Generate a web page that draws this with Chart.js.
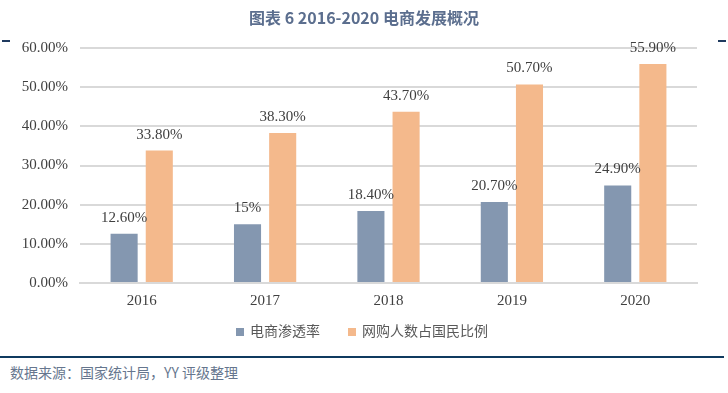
<!DOCTYPE html>
<html>
<head>
<meta charset="utf-8">
<script src="https://cdn.jsdelivr.net/npm/chart.js@4"></script>
<style>
  html, body { margin: 0; padding: 0; background: #fff; }
  #wrap { position: relative; width: 728px; height: 393px; overflow: hidden; }
  #title { position: absolute; top: 5px; left: 0; width: 728px; text-align: center;
    font: bold 16px "Noto Sans CJK SC", "Noto Sans", sans-serif; color: #5b6e8e; }
  .dash { position: absolute; top: 40px; width: 8px; height: 2px; background: #1f3a5f; }
  #chartBox { position: absolute; left: 0; top: 0; width: 728px; height: 330px; }
  #legend { position: absolute; top: 320px; left: 236px; height: 20px; white-space: nowrap;
    font: 14px "Noto Sans CJK SC", serif; color: #595959; line-height: 20px; }
  #legend span.item { display: inline-block; margin-right: 28px; }
  #legend i { display: inline-block; width: 8px; height: 8px; margin-right: 6px; vertical-align: 0px; }
  #rule { position: absolute; left: 0; top: 356px; width: 724px; height: 2px; background: #0f3a5f; }
  #source { position: absolute; left: 10px; top: 362px;
    font: 14px "Noto Sans CJK SC", "Noto Sans", sans-serif; color: #66768e; }
</style>
</head>
<body>
<div id="wrap">
  <div id="chartBox"><canvas id="chart"></canvas></div>
  <div id="title">图表 6 2016-2020 电商发展概况</div>
  <div class="dash" style="left:2px"></div>
  <div class="dash" style="left:718px"></div>
  <div id="legend"></div>
  <div id="rule"></div>
  <div id="source">数据来源：国家统计局，YY 评级整理</div>
</div>
<script>
const years = ['2016', '2017', '2018', '2019', '2020'];
const penetration = [12.6, 15, 18.4, 20.7, 24.9];
const penetrationLabels = ['12.60%', '15%', '18.40%', '20.70%', '24.90%'];
const shoppers = [33.8, 38.3, 43.7, 50.7, 55.9];
const shoppersLabels = ['33.80%', '38.30%', '43.70%', '50.70%', '55.90%'];

const serif = '"Liberation Serif", "Times New Roman", serif';

// draw value labels above bars
const barLabels = {
  id: 'barLabels',
  afterDatasetsDraw(chart) {
    const ctx = chart.ctx;
    ctx.save();
    ctx.font = '15px ' + serif;
    ctx.fillStyle = '#404040';
    ctx.textAlign = 'center';
    ctx.textBaseline = 'alphabetic';
    chart.data.datasets.forEach((ds, i) => {
      chart.getDatasetMeta(i).data.forEach((bar, j) => {
        ctx.fillText(ds.valueLabels[j], bar.x, bar.y - 12);
      });
    });
    ctx.restore();
  }
};

const chart = new Chart(document.getElementById('chart'), {
  type: 'bar',
  data: {
    labels: years,
    datasets: [
      { label: '电商渗透率', data: penetration, valueLabels: penetrationLabels,
        backgroundColor: '#8497b0' },
      { label: '网购人数占国民比例', data: shoppers, valueLabels: shoppersLabels,
        backgroundColor: '#f4b98c' }
    ]
  },
  options: {
    responsive: true,
    maintainAspectRatio: false,
    animation: false,
    layout: { padding: { left: 0, right: 31, top: 48, bottom: 11 } },
    datasets: { bar: { categoryPercentage: 0.57, barPercentage: 0.77 } },
    scales: {
      x: {
        grid: { display: false, drawTicks: false },
        border: { color: '#d9d9d9', width: 2 },
        ticks: { color: '#404040', padding: 9, font: { family: serif, size: 15 } }
      },
      y: {
        min: 0, max: 60,
        ticks: { stepSize: 10, color: '#404040', padding: 12,
          font: { family: serif, size: 15 },
          callback: v => v.toFixed(2) + '%' },
        grid: { color: '#d9d9d9', lineWidth: 2, drawTicks: false },
        border: { display: false },
        afterFit(scale) { scale.width = 80; }
      }
    },
    plugins: {
      tooltip: { enabled: false },
      legend: { display: false }
    }
  },
  plugins: [barLabels]
});

// legend built from the datasets
document.getElementById('legend').innerHTML = chart.data.datasets.map(ds =>
  `<span class="item"><i style="background:${ds.backgroundColor}"></i>${ds.label}</span>`
).join('');
</script>
</body>
</html>
